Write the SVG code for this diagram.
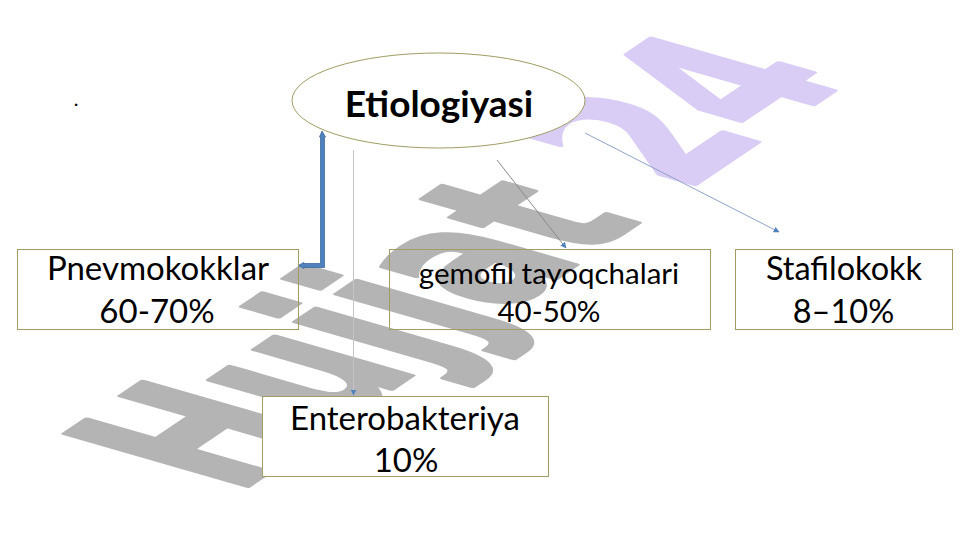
<svg xmlns="http://www.w3.org/2000/svg" width="961" height="540" viewBox="0 0 961 540">
<style>
  .box { fill: none; stroke: #a09c62; stroke-width: 1; }
  .lbl { font-family: Lato, "Liberation Sans", sans-serif; fill: #000; text-anchor: middle; }
  .wm { font-family: "DejaVu Sans", "Liberation Sans", sans-serif; font-weight: bold; font-size: 100px; stroke-width: 2.5; stroke-linejoin: round; }
  .thin { fill: none; stroke-width: 1; }
</style>
<defs>
  <marker id="ah" viewBox="0 0 10 10" refX="9" refY="5" markerWidth="6" markerHeight="6" markerUnits="userSpaceOnUse" orient="auto">
    <path d="M0,0 L10,5 L0,10 z" fill="#4f81bd"/>
  </marker>
</defs>
<rect x="0" y="0" width="961" height="540" fill="#ffffff"/>

<!-- watermark -->
<text class="wm" transform="matrix(1.202 -0.811 2.5 0.72 236 494)" x="0" y="0"><tspan fill="#b4b4b4" stroke="#b4b4b4">Hujjat</tspan><tspan fill="#d9cdf6" stroke="#d9cdf6"> 24</tspan></text>

<text class="lbl" x="76" y="106" font-size="20">.</text>

<g id="connectors">
  <path d="M322,131 L325.5,137 L324.5,137 L324.5,267.5 L304,267.5 L304,268.5 L298,265.5 L304,262.5 L304,263.5 L320.5,263.5 L320.5,137 L319.5,137 Z" fill="#4f81bd" stroke="#3d6aa0" stroke-width="0.8"/>
  <line class="thin" x1="353.5" y1="150" x2="353.5" y2="395" stroke="#c4c4c4" marker-end="url(#ah)"/>
  <line class="thin" x1="497" y1="160" x2="566" y2="248" stroke="#8a8a8a" marker-end="url(#ah)"/>
  <line class="thin" x1="585" y1="133" x2="779" y2="232" stroke="#8ea2c6" marker-end="url(#ah)"/>
</g>

<g id="etiologiyasi">
  <ellipse cx="438.5" cy="100.5" rx="146.5" ry="47.5" fill="#ffffff" stroke="#a09c62" stroke-width="1"/>
  <text class="lbl" x="439" y="117" font-size="37" font-weight="bold">Etiologiyasi</text>
</g>

<g id="pnevmokokklar">
  <rect class="box" x="17.5" y="249.5" width="281" height="80"/>
  <text class="lbl" x="158" y="280" font-size="33">Pnevmokokklar</text>
  <text class="lbl" x="157" y="323" font-size="33">60-70%</text>
</g>

<g id="gemofil">
  <rect class="box" x="389.5" y="249.5" width="321" height="80"/>
  <text class="lbl" x="549" y="284" font-size="29.5">gemofil tayoqchalari</text>
  <text class="lbl" x="549" y="321.5" font-size="29.5">40-50%</text>
</g>

<g id="stafilokokk">
  <rect class="box" x="735.5" y="249.5" width="217" height="80"/>
  <text class="lbl" x="844" y="280" font-size="32.5">Stafilokokk</text>
  <text class="lbl" x="843.5" y="323" font-size="32.5">8–10%</text>
</g>

<g id="enterobakteriya">
  <rect class="box" x="262.5" y="396.5" width="286" height="80" style="fill:#ffffff"/>
  <text class="lbl" x="405" y="430" font-size="33">Enterobakteriya</text>
  <text class="lbl" x="406" y="472" font-size="33">10%</text>
</g>
</svg>
